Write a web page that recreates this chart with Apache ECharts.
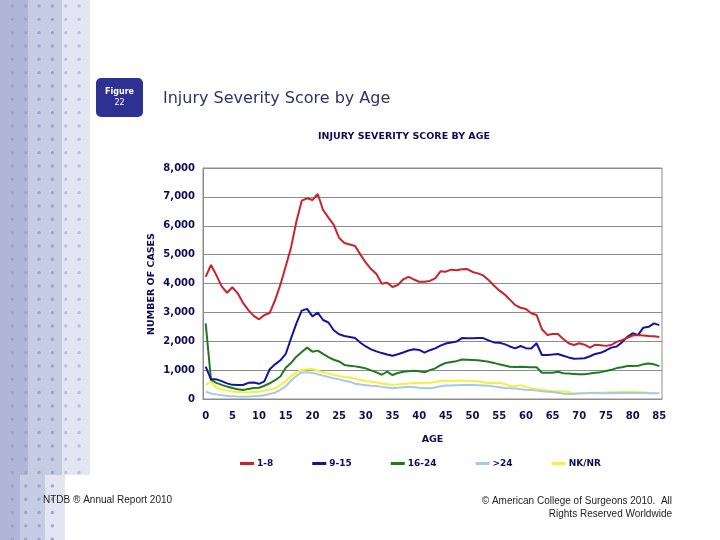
<!DOCTYPE html>
<html>
<head>
<meta charset="utf-8">
<script src="https://cdn.jsdelivr.net/npm/echarts@6/dist/echarts.min.js"></script>
<style>
html,body{margin:0;padding:0;background:#fff;}
#c{width:720px;height:540px;}
</style>
</head>
<body>
<div id="c"></div>
<script>
// ---- data ----
var ages = [];
for (var a = 0; a <= 85; a++) ages.push(String(a));

var iss1to8 = [4230,4640,4290,3900,3680,3870,3660,3330,3080,2880,2760,2910,2980,3420,3960,4600,5250,6150,6870,6950,
  6890,7100,6545,6280,6030,5580,5400,5350,5300,5000,4720,4500,4330,3990,4030,3880,3950,4140,4230,4140,
  4060,4060,4090,4180,4420,4410,4480,4460,4490,4500,4400,4350,4280,4120,3930,3760,3625,3440,3250,3160,
  3120,2970,2910,2415,2220,2250,2250,2080,1930,1870,1930,1880,1780,1880,1860,1840,1870,1980,2040,2120,
  2200,2215,2200,2180,2170,2150];
var iss9to15 = [1120,680,680,620,540,490,485,485,560,570,525,610,1030,1200,1340,1560,2100,2620,3060,3120,
  2860,2990,2735,2650,2380,2240,2180,2150,2110,1950,1820,1720,1650,1590,1540,1500,1550,1610,1680,1720,
  1700,1605,1690,1755,1850,1920,1960,1990,2110,2100,2100,2110,2110,2030,1960,1950,1900,1820,1755,1835,
  1760,1750,1930,1525,1525,1540,1560,1500,1440,1395,1400,1410,1480,1560,1600,1680,1780,1820,1960,2150,
  2275,2215,2470,2500,2620,2560];
var iss16to24 = [2620,660,560,490,430,380,340,310,350,380,390,460,545,650,780,1080,1250,1465,1630,1780,
  1640,1675,1560,1450,1360,1300,1180,1150,1130,1100,1060,990,920,840,945,830,900,945,960,975,
  960,925,1000,1060,1170,1250,1280,1310,1370,1360,1350,1340,1320,1290,1250,1200,1160,1120,1110,1120,
  1110,1100,1100,910,910,910,945,890,880,870,860,855,880,910,930,970,1010,1070,1100,1140,
  1145,1150,1200,1230,1200,1140];
var issOver24 = [255,190,160,130,105,95,85,80,85,95,105,130,175,220,320,440,640,800,920,915,
  905,860,810,760,715,680,630,600,530,500,480,460,450,420,400,375,390,410,425,410,
  390,375,370,400,440,465,470,480,485,485,485,480,470,460,430,410,380,370,360,340,
  320,310,290,270,255,240,215,185,170,175,190,200,205,205,200,200,205,210,210,205,
  205,210,205,200,200,200];
var issNKNR = [485,590,400,330,290,260,230,230,235,245,255,290,330,370,490,620,790,920,1005,1030,
  1040,980,930,880,835,800,760,745,700,660,620,600,570,540,510,490,500,520,540,550,
  555,560,565,590,625,635,635,635,640,635,630,610,580,550,550,565,520,450,440,480,
  420,375,350,320,295,280,270,260,240,195,200,210,215,220,220,225,230,235,245,250,
  255,240,230,215,205,200];

var seriesNames = ['1-8','9-15','16-24','>24','NK/NR'];
var seriesColors = ['#cc2229','#1414a0','#1f7a1f','#a9c8e8','#f2f23a'];
var yTicks = [0,1000,2000,3000,4000,5000,6000,7000,8000];

// ---- decoration ----
var navy = '#0d0d55';
var deco = [];
function band(x0, x1, y0, y1, col){ deco.push({type:'rect', shape:{x:x0,y:y0,width:x1-x0,height:y1-y0}, style:{fill:col}, silent:true, z:-10}); }
band(0,28,0,475,'#afb6d7'); band(28,62,0,475,'#c6cce3'); band(62,90,0,475,'#e3e6f2');
band(0,20,475,540,'#afb6d7'); band(20,45,475,540,'#c6cce3'); band(45,65,475,540,'#e3e6f2');
var dotX = [12.3,25.7,39,52.3,65.7,79];
for (var r = 0; r < 41; r++) {
  var yy = 6 + r*13.33;
  for (var k = 0; k < dotX.length; k++) {
    var xx = dotX[k];
    if (yy > 475 && xx > 62) continue;
    var col = xx > 62 ? '#bcc0d9' : '#9ea5c8';
    deco.push({type:'circle', shape:{cx:xx, cy:yy, r:1.7}, style:{fill:col}, silent:true, z:-9});
  }
}
deco.push({type:'rect', shape:{x:96,y:78,width:47,height:39,r:5}, style:{fill:'#2e3192'}, z:5});
deco.push({type:'text', x:119.5, y:92, style:{text:'Figure', fill:'#ffffff', font:'bold 8px "DejaVu Sans"', align:'center', verticalAlign:'middle'}, z:6});
deco.push({type:'text', x:119.5, y:103, style:{text:'22', fill:'#ffffff', font:'8px "DejaVu Sans"', align:'center', verticalAlign:'middle'}, z:6});
deco.push({type:'text', x:163, y:99, style:{text:'Injury Severity Score by Age', fill:'#2f3366', font:'16px "DejaVu Sans"', verticalAlign:'middle'}, z:6});
deco.push({type:'text', x:152, y:284, rotation:Math.PI/2, style:{text:'NUMBER OF CASES', fill:navy, font:'bold 9.5px "DejaVu Sans"', align:'center', verticalAlign:'middle'}, z:6});
deco.push({type:'text', x:43, y:500, style:{text:'NTDB ® Annual Report 2010', fill:'#222222', font:'10px "Liberation Sans"', verticalAlign:'middle'}, z:6});
deco.push({type:'text', x:672, y:501, style:{text:'© American College of Surgeons 2010.  All', fill:'#222222', font:'10px "Liberation Sans"', align:'right', verticalAlign:'middle'}, z:6});
deco.push({type:'text', x:672, y:514, style:{text:'Rights Reserved Worldwide', fill:'#222222', font:'10px "Liberation Sans"', align:'right', verticalAlign:'middle'}, z:6});

var allData = [iss1to8, iss9to15, iss16to24, issOver24, issNKNR];
var series = [];
for (var i = 0; i < seriesNames.length; i++) {
  series.push({
    name: seriesNames[i], type:'line', data: allData[i], symbol:'none',
    lineStyle:{width:2, color:seriesColors[i]}, itemStyle:{color:seriesColors[i]},
    z: 10 - i, animation:false
  });
}

var chart = echarts.init(document.getElementById('c'));
chart.setOption({
  animation:false,
  backgroundColor:'#ffffff',
  title:{text:'INJURY SEVERITY SCORE BY AGE', left:399, top:127, textAlign:'center',
    textStyle:{fontFamily:'DejaVu Sans', fontWeight:'bold', fontSize:9.5, color:navy}},
  grid:{left:203, top:168, right:58, bottom:141, show:true, borderColor:'#8c8c8c', borderWidth:1},
  legend:{data:seriesNames, left:235, top:454, itemWidth:14, itemHeight:3, itemGap:39, icon:'rect',
    textStyle:{fontFamily:'DejaVu Sans', fontWeight:'bold', fontSize:9, color:navy, padding:[0,0,0,-2]}},
  xAxis:{type:'category', data:ages, boundaryGap:true,
    name:'AGE', nameLocation:'middle', nameGap:36,
    nameTextStyle:{fontFamily:'DejaVu Sans', fontWeight:'bold', fontSize:9.5, color:navy},
    axisLine:{lineStyle:{color:'#8c8c8c'}},
    axisTick:{interval:0, alignWithLabel:true, length:4, lineStyle:{color:'#8c8c8c'}},
    axisLabel:{interval:4, margin:12, fontFamily:'DejaVu Sans', fontWeight:'bold', fontSize:10, color:navy},
    splitLine:{show:false}},
  yAxis:{type:'value', min:yTicks[0], max:yTicks[yTicks.length-1], interval:1000,
    axisLine:{show:true, lineStyle:{color:'#8c8c8c'}},
    axisTick:{show:false},
    axisLabel:{margin:8, fontFamily:'DejaVu Sans', fontWeight:'bold', fontSize:10, color:navy,
      formatter:function(v){ return v.toLocaleString('en-US'); }},
    splitLine:{lineStyle:{color:'#8c8c8c', width:1}}},
  graphic: deco,
  series: series
});
</script>
</body>
</html>
